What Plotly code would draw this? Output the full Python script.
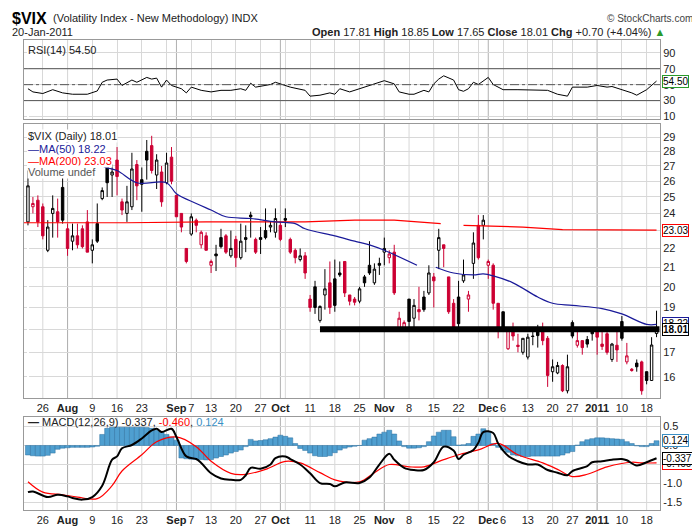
import pandas as pd
import plotly.graph_objects as go
from plotly.subplots import make_subplots

# ---------------- data ----------------
holidays = ["2010-09-06", "2010-11-25", "2010-12-24", "2011-01-17"]
dates = [d for d in pd.bdate_range("2010-07-21", "2011-01-20") if d.strftime("%Y-%m-%d") not in holidays]
idx_of = {d.strftime("%Y-%m-%d"): i for i, d in enumerate(dates)}

opens = [23.5,24.4,24.8,24.4,21.9,24.0,24.1,25.6,23.1,22.4,22.7,23.1,23.5,21.9,23.4,24.9,27.0,26.4,27.4,24.7,
         24.0,24.4,27.1,26.1,28.0,28.4,26.4,26.6,25.9,27.6,25.1,24.0,22.0,22.8,23.6,22.2,22.7,21.1,21.7,22.6,
         22.7,21.6,22.5,21.5,22.6,23.9,22.5,22.6,23.0,23.2,22.9,23.3,23.7,22.5,21.9,21.4,21.6,19.4,20.0,18.4,
         19.6,20.2,20.4,20.7,21.3,19.6,19.4,19.3,20.5,21.1,20.2,21.2,21.8,21.5,21.8,18.0,18.0,19.4,18.5,18.9,
         19.5,19.7,20.5,21.9,22.2,20.5,19.2,19.5,20.3,19.4,21.2,23.3,23.3,21.1,21.1,19.2,18.8,17.15,18.0,17.3,
         17.0,16.8,17.7,18.0,18.05,17.6,16.2,16.15,16.45,15.45,18.3,17.3,17.5,17.55,17.95,17.9,17.35,17.8,16.7,17.3,
         18.35,16.6,16.3,16.55,16.6,16.2,15.85,17.81]
highs = [26.7,25.0,25.1,24.6,23.6,25.1,24.9,26.6,23.4,23.4,23.4,23.3,24.2,22.5,24.6,25.6,27.4,27.1,28.3,24.9,
         25.7,27.9,27.4,26.9,28.8,29.1,27.8,27.0,27.9,28.3,25.1,24.0,22.0,24.0,23.7,23.0,22.9,21.4,22.2,23.1,
         22.8,23.0,22.7,23.4,23.3,24.1,22.6,23.2,24.3,23.5,24.3,23.5,24.3,22.6,22.0,22.0,21.8,19.6,20.3,19.1,
         20.9,21.3,21.4,21.3,21.3,19.6,19.5,20.0,20.6,22.4,21.2,21.5,22.6,21.9,22.2,18.8,18.4,19.4,19.4,20.0,
         19.8,21.1,20.7,23.1,22.2,20.5,19.4,20.3,21.4,19.8,22.9,23.9,23.9,21.4,21.2,19.2,18.8,18.1,18.3,17.8,
         17.6,17.8,17.9,18.2,18.3,17.7,16.7,16.6,16.5,16.9,18.4,18.0,17.5,17.7,18.0,18.0,18.1,18.0,17.4,18.0,
         18.6,17.4,16.35,16.7,16.65,16.2,17.65,18.85]
lows = [23.3,24.0,23.2,22.5,21.8,22.6,22.6,23.4,21.6,21.9,22.0,22.0,21.8,21.2,22.3,24.8,25.0,25.0,25.1,23.9,
        23.5,24.2,24.8,24.1,26.1,26.5,25.5,24.4,25.8,25.8,23.8,22.9,21.2,22.7,22.9,22.0,21.9,20.7,20.8,22.0,
        21.7,21.5,21.0,21.4,21.8,22.6,21.7,21.7,22.5,22.9,22.6,22.4,23.2,21.7,21.2,21.3,20.4,18.8,18.7,18.3,
        18.9,18.7,18.8,20.5,19.5,19.1,19.1,19.2,20.0,20.6,20.1,20.6,21.1,21.2,19.6,17.9,17.9,18.0,17.9,18.4,
        18.8,19.6,19.0,20.9,21.0,18.7,17.9,18.0,20.2,18.8,20.4,21.4,22.5,20.4,18.9,17.6,17.9,17.1,17.5,17.0,
        16.9,16.7,17.3,17.2,17.3,15.6,15.8,16.1,15.4,15.35,17.6,17.2,16.9,17.2,17.5,16.9,17.1,16.9,16.6,16.6,
        17.5,16.5,16.2,16.2,15.3,15.7,15.85,17.65]
closes = [25.7,24.6,23.5,22.7,23.2,24.3,23.5,23.6,22.0,22.7,22.2,22.1,21.8,22.2,22.4,25.4,25.9,26.6,26.3,24.2,
          24.7,26.8,25.7,25.8,27.4,26.7,27.4,24.7,27.2,26.0,23.8,23.2,21.3,23.8,23.3,22.9,21.9,21.3,21.6,22.1,
          21.8,22.0,21.5,22.4,22.5,23.8,21.8,22.5,22.6,23.3,23.7,22.5,23.6,21.8,21.5,21.6,20.7,19.0,19.0,19.05,
          19.9,19.0,19.1,20.6,19.7,19.3,19.25,19.9,20.2,20.7,20.9,21.1,22.0,21.7,19.7,18.5,18.3,18.35,19.1,18.8,
          18.9,20.7,20.3,22.6,22.0,18.8,18.0,18.25,20.6,19.6,22.3,21.5,23.6,21.3,19.2,18.0,18.05,18.0,17.7,17.25,
          17.6,17.65,17.68,17.72,17.5,16.05,16.4,16.45,15.45,16.4,17.7,17.5,17.2,17.35,17.8,17.65,17.25,17.0,17.35,17.1,
          17.6,16.85,16.25,16.4,15.45,15.85,17.31,18.01]

ma50_idx = [5, 15, 18, 22, 28, 30, 34, 37, 40, 45, 50, 54, 56, 62, 66, 69, 72, 78.6, None,
            82.4, 86, 90, 92, 94, 98, 103, 106, 110, 116, 120, 125, 127]
ma50_val = [29.4, 27.0, 26.7, 25.9, 25.9, 25.2, 24.6, 24.2, 23.8, 23.7, 23.5, 23.4, 23.1, 22.7, 22.4, 22.2, 21.9, 21.1, None,
            21.0, 20.7, 20.6, 20.65, 20.55, 20.2, 19.5, 19.2, 19.1, 18.95, 18.7, 18.22, 18.22]
ma200_idx = [-1, 20, 36, 56, 66, 74, 83.4, None, 88, 100, 108, 116, 127]
ma200_val = [23.45, 23.45, 23.5, 23.5, 23.6, 23.6, 23.4, None, 23.3, 23.2, 23.05, 23.05, 23.03]

support_level = 18.0
support_start = 59

rsi_idx = [0,1,3,5,7,9,12,14,15,16,18,19,21,22,24,25,26,27,28,29,31,32,33,35,37,39,41,43,44,45,46,47,49,50,52,53,
           56,57,59,61,62,63,65,67,69,70,72,74,75,77,78,80,81,82,83,84,86,87,88,89,90,91,92,93,94,96,99,103,105,
           107,109,110,113,115,117,118,121,122,123,125,127]
rsi_val = [44.9,40.9,38.9,43.7,39.7,38.0,38.0,42.1,53.0,55.8,57.0,49.0,55.8,53.0,59.1,57.0,58.2,46.9,55.8,49.0,44.9,39.7,
           46.9,42.9,40.9,42.9,42.9,44.9,42.9,51.8,46.9,47.7,50.2,53.0,49.0,46.9,42.9,35.6,36.8,39.7,38.0,44.9,40.9,
           44.9,49.0,51.8,55.0,51.0,40.9,38.0,38.0,42.9,40.9,51.0,57.0,61.1,55.8,43.7,41.7,44.9,53.0,50.2,55.0,59.1,
           50.2,43.7,43.7,42.9,42.9,38.0,35.6,46.9,46.9,49.0,46.9,47.7,42.1,39.7,36.8,43.7,54.5]

macd_idx = [0,1,4,6,8,9,11,13,15,17,18,19,21,23,25,26,27,29,30,32,34,35,37,39,41,43,44,45,47,49,50,52,53,55,57,59,61,62,
            64,67,69,71,73,74,76,78,80,82,84,86,87,88,90,91,92,94,95,97,99,101,103,105,107,109,110,113,114,116,118,120,
            121,123,125,127]
macd_val = [-1.228,-1.21,-1.356,-1.296,-1.339,-1.381,-1.424,-1.356,-1.057,-0.373,-0.287,-0.074,0.012,0.183,0.396,0.439,
            0.354,0.439,0.225,-0.287,-0.356,-0.458,-0.732,-0.869,-0.903,-0.903,-0.783,-0.587,-0.612,-0.501,-0.33,-0.287,
            -0.356,-0.501,-0.732,-0.988,-1.014,-1.074,-0.971,-0.988,-0.843,-0.501,-0.219,-0.373,-0.587,-0.646,-0.646,
            -0.441,-0.031,-0.134,-0.356,-0.245,-0.117,0.071,0.354,0.328,0.054,-0.27,-0.416,-0.501,-0.501,-0.646,-0.715,
            -0.783,-0.672,-0.544,-0.441,-0.416,-0.373,-0.356,-0.39,-0.527,-0.441,-0.337]
signal_idx = [0,3,7,10,14,17,19,23,26,30,34,37,41,44,48,52,55,59,62,67,70,73,77,80,84,87,91,95,99,104,107,110,113,117,
              122,124,127]
signal_val = [-0.954,-1.228,-1.296,-1.356,-1.399,-1.057,-0.672,-0.245,0.097,0.225,-0.031,-0.416,-0.732,-0.758,-0.629,
              -0.416,-0.458,-0.715,-0.903,-0.954,-0.715,-0.501,-0.561,-0.561,-0.373,-0.245,-0.117,0.054,-0.245,-0.458,
              -0.629,-0.817,-0.758,-0.561,-0.441,-0.458,-0.46]
hist_val = [-0.25,-0.27,-0.28,-0.28,-0.26,-0.2,-0.1,-0.07,-0.06,-0.05,-0.05,-0.05,-0.05,-0.04,-0.02,
            0.29,0.45,0.48,0.48,0.48,0.48,0.48,0.48,0.48,0.47,0.45,0.4,0.35,0.29,0.22,
            0.14,-0.33,-0.35,-0.36,-0.37,-0.37,-0.38,-0.37,-0.33,-0.29,-0.25,-0.2,-0.16,-0.12,-0.03,
            0.16,0.12,0.13,0.15,0.18,0.22,0.27,0.24,0.2,0.05,-0.08,-0.13,-0.2,-0.27,-0.29,
            -0.29,-0.27,-0.19,-0.12,-0.07,-0.04,-0.02,0.0,0.14,0.18,0.22,0.3,0.35,0.4,0.3,
            0.12,-0.03,-0.07,-0.07,-0.06,-0.03,0.1,0.25,0.35,0.4,0.4,0.23,0.01,0.02,0.05,
            0.24,0.3,0.44,0.35,0.05,-0.05,-0.12,-0.18,-0.25,-0.27,-0.29,-0.29,-0.28,-0.28,-0.28,
            -0.28,-0.28,-0.28,-0.25,-0.2,-0.16,0.01,0.1,0.15,0.18,0.2,0.2,0.19,0.18,0.17,
            0.16,0.1,0.05,-0.01,-0.03,-0.03,0.05,0.124]

tick_dates = ["2010-07-26","2010-08-02","2010-08-09","2010-08-16","2010-08-23","2010-09-01","2010-09-07","2010-09-13",
              "2010-09-20","2010-09-27","2010-10-01","2010-10-11","2010-10-18","2010-10-25","2010-11-01","2010-11-08",
              "2010-11-15","2010-11-22","2010-12-01","2010-12-06","2010-12-13","2010-12-20","2010-12-27","2011-01-03",
              "2011-01-10","2011-01-18"]
tick_text = ["26","<b>Aug</b>","9","16","23","<b>Sep</b>","7","13","20","27","<b>Oct</b>","11","18","25","<b>Nov</b>","8",
             "15","22","<b>Dec</b>","6","13","20","27","<b>2011</b>","10","18"]
grid_dates = ["2010-07-26","2010-08-02","2010-08-09","2010-08-16","2010-08-23","2010-08-30","2010-09-07","2010-09-13",
              "2010-09-20","2010-09-27","2010-10-04","2010-10-11","2010-10-18","2010-10-25","2010-11-01","2010-11-08",
              "2010-11-15","2010-11-22","2010-11-29","2010-12-06","2010-12-13","2010-12-20","2010-12-27","2011-01-03",
              "2011-01-10","2011-01-18"]
month_dates = ["2010-08-02","2010-09-01","2010-10-01","2010-11-01","2010-12-01","2011-01-03"]

price_ticks = [16,17,18,19,20,21,22,23,24,25,26,27,28,29]
rsi_ticks = [10,30,50,70,90]
macd_ticks = [0.5,0.0,-0.5,-1.0,-1.5]

# ---------------- figure ----------------
n = len(closes)
xs = list(range(n))
FONT = "Liberation Sans"
fig = make_subplots(rows=3, cols=1, shared_xaxes=True, vertical_spacing=0.0)

fig.add_trace(go.Scatter(x=rsi_idx, y=rsi_val, mode="lines", line=dict(color="black", width=1)), row=1, col=1)

for col in ["black", "#cc0033"]:
    o, h, l, c = [], [], [], []
    for i in range(n):
        red = i > 0 and closes[i] < closes[i - 1]
        keep = red == (col != "black")
        o.append(opens[i] if keep else None)
        h.append(highs[i] if keep else None)
        l.append(lows[i] if keep else None)
        c.append(closes[i] if keep else None)
    fig.add_trace(go.Candlestick(
        x=xs, open=o, high=h, low=l, close=c, whiskerwidth=0,
        increasing=dict(line=dict(color=col, width=1), fillcolor="white"),
        decreasing=dict(line=dict(color=col, width=1), fillcolor=col)), row=2, col=1)

fig.add_trace(go.Scatter(x=ma200_idx, y=ma200_val, mode="lines", line=dict(color="red", width=1.2)), row=2, col=1)
fig.add_trace(go.Scatter(x=ma50_idx, y=ma50_val, mode="lines", line=dict(color="#1a1a99", width=1.2, shape="spline")), row=2, col=1)
fig.add_trace(go.Scatter(x=[support_start, n - 0.4], y=[support_level, support_level], mode="lines",
                         line=dict(color="black", width=6)), row=2, col=1)

fig.add_trace(go.Bar(x=xs, y=hist_val, marker=dict(color="#4f9fd0", line=dict(color="#2a6f9f", width=0.5)),
                     width=1.0), row=3, col=1)
fig.add_trace(go.Scatter(x=signal_idx, y=signal_val, mode="lines", line=dict(color="red", width=1.2, shape="spline")), row=3, col=1)
fig.add_trace(go.Scatter(x=macd_idx, y=macd_val, mode="lines", line=dict(color="black", width=2, shape="spline")), row=3, col=1)

grid_idx = [idx_of[d] for d in grid_dates]
tick_idx = [idx_of[d] for d in tick_dates]
xrange = [-0.8, n - 0.3]
for r in (1, 2, 3):
    fig.update_xaxes(row=r, col=1, range=xrange, tickvals=grid_idx, ticktext=[""] * len(grid_idx),
                     showgrid=True, gridcolor="#d8d8d8", showline=True, mirror=True, linecolor="#999",
                     ticks="", rangeslider=dict(visible=False), showticklabels=False, tickangle=0)
for axname in ("xaxis2", "xaxis3"):
    fig.layout[axname].update(showticklabels=True, tickvals=tick_idx, ticktext=tick_text, tickangle=0,
                              showgrid=False, tickfont=dict(family=FONT, size=11, color="#222"))

common_y = dict(side="right", showgrid=True, gridcolor="#d8d8d8", showline=True, mirror=True, linecolor="#999",
                tickfont=dict(family=FONT, size=11, color="#222"), ticks="", zeroline=False)
fig.update_yaxes(row=1, col=1, range=[7, 106], tickvals=rsi_ticks, **common_y)
fig.update_yaxes(row=2, col=1, type="log", range=[1.181, 1.477], tickvals=price_ticks, **common_y)
fig.update_yaxes(row=3, col=1, range=[-1.697, 0.738], tickvals=macd_ticks, ticktext=["0.5","0.0","-0.5","-1.0","-1.5"],
                 **common_y)

fig.layout.yaxis.domain = [0.832, 1.0]
fig.layout.yaxis2.domain = [0.238, 0.822]
fig.layout.yaxis3.domain = [0.0, 0.197]

shapes = []
for gi in grid_idx:
    for xr, yr in (("x2", "y2 domain"), ("x3", "y3 domain")):
        shapes.append(dict(type="line", xref=xr, yref=yr, x0=gi, x1=gi, y0=0, y1=1,
                           line=dict(color="#d8d8d8", width=1), layer="below"))
for md in month_dates:
    mi = idx_of[md]
    for xr, yr in (("x", "y domain"), ("x2", "y2 domain"), ("x3", "y3 domain")):
        shapes.append(dict(type="line", xref=xr, yref=yr, x0=mi, x1=mi, y0=0, y1=1,
                           line=dict(color="#b0b0b0", width=1), layer="below"))
for lv, dash in ((70, "solid"), (30, "solid"), (50, "dashdot")):
    shapes.append(dict(type="line", xref="x domain", yref="y", x0=0, x1=1, y0=lv, y1=lv,
                       line=dict(color="#555", width=1, dash=dash)))
fig.update_layout(shapes=shapes)

ann = []
def A(x, y, text, size=11, color="#222", xanchor="left", bg=None):
    d = dict(x=x, y=y, text=text, xref="paper", yref="paper", xanchor=xanchor, yanchor="middle",
             showarrow=False, font=dict(family=FONT, size=size, color=color), borderpad=0)
    if bg:
        d["bgcolor"] = bg
    ann.append(d)

A(-0.02, 1.046, "<b>$VIX</b>", size=16, color="black")
A(0.044, 1.046, "(Volatility Index - New Methodology) INDX", size=11)
A(1.053, 1.046, "© StockCharts.com", size=10, color="#444", xanchor="right")
A(-0.02, 1.016, "20-Jan-2011", size=11)
A(1.01, 1.016, "<b>Open</b> 17.81 <b>High</b> 18.85 <b>Low</b> 17.65 <b>Close</b> 18.01 <b>Chg</b> +0.70 (+4.04%) "
  "<span style='color:#2a9a2a'>▲</span>", size=11, xanchor="right")
A(0.005, 0.979, "RSI(14) 54.50", size=11)
A(0.005, 0.795, "$VIX (Daily) 18.01", size=11, bg="white")
A(0.005, 0.768, "—MA(50) 18.22", size=11, color="#1a1a99", bg="white")
A(0.005, 0.743, "—MA(200) 23.03", size=11, color="red", bg="white")
A(0.005, 0.720, "Volume undef", size=11, color="#555", bg="white")
A(0.005, 0.188, "<b>—</b> MACD(12,26,9) -0.337, <span style='color:red'>-0.460</span>, "
  "<span style='color:#3a8fc4'>0.124</span>", size=11)

def box(yval, yref, text, color, bold=False):
    ann.append(dict(x=1.0, y=yval, xref="paper", yref=yref, xanchor="left", yanchor="middle", showarrow=False,
                    text=("<b>%s</b>" % text) if bold else text, bgcolor="white", bordercolor=color,
                    borderwidth=1, borderpad=0, xshift=2,
                    font=dict(family=FONT, size=10, color="black")))

box(54.5, "y", "54.50", "#2a9a2a")
box(1.3622, "y2", "23.03", "red")
box(1.2610, "y2", "18.22", "#1a1a99")
box(1.2555, "y2", "18.01", "black", bold=True)
box(0.124, "y3", "0.124", "#3a8fc4")
box(-0.47, "y3", "-0.460", "red")
box(-0.337, "y3", "-0.337", "black")

fig.update_layout(annotations=ann, width=700, height=530, showlegend=False,
                  margin=dict(l=16, r=48, t=32, b=15), plot_bgcolor="white", paper_bgcolor="white",
                  bargap=0.15)
fig.write_html("out.html")
